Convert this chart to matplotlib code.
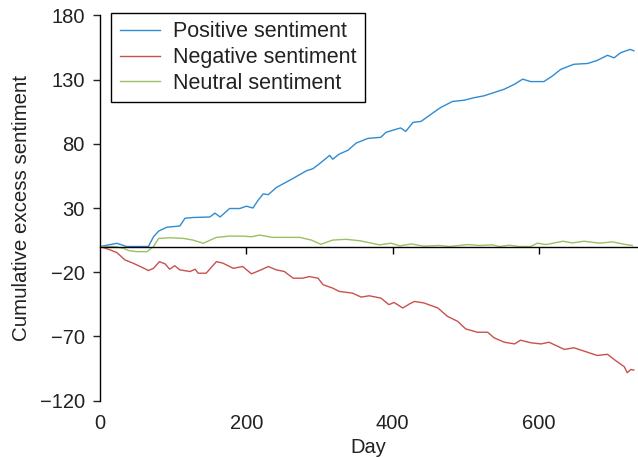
import matplotlib
matplotlib.use("Agg")
import matplotlib.pyplot as plt

plt.rcParams['font.family'] = ['Liberation Sans', 'DejaVu Sans']

pos_days = [0, 23, 36, 45, 66, 73, 80, 91, 109, 116, 127, 150, 157, 164, 177, 191, 200, 209, 216, 223,
            230, 241, 259, 273, 282, 291, 300, 314, 318, 327, 339, 350, 366, 384, 391, 411, 418, 428,
            439, 450, 466, 482, 498, 512, 525, 539, 553, 567, 578, 589, 607, 619, 630, 648, 667, 680,
            694, 703, 712, 725, 730]
pos_vals = [0, 2.5, 0, 0, 0, 7.6, 12, 15, 16, 22, 22.6, 23, 26, 23, 29.6, 29.6, 31.4, 30, 36, 41,
            40.4, 46, 51.5, 56, 59, 60.6, 64.5, 71, 68, 72, 75, 80.5, 84.2, 85.1, 89, 92.4, 89.7, 96.7,
            97.5, 102, 108.4, 113, 114, 116, 117.4, 120, 122.6, 126.5, 130.4, 128.5, 128.5, 133, 138, 142,
            142.6, 145, 149, 147, 151, 153.6, 152.5]

neg_days = [0, 14, 23, 34, 45, 55, 66, 73, 81, 89, 95, 102, 109, 123, 130, 134, 145, 159, 168, 175,
            182, 195, 207, 218, 230, 241, 252, 264, 277, 286, 298, 305, 318, 327, 345, 357, 368, 384,
            395, 402, 414, 423, 430, 443, 462, 475, 489, 500, 516, 530, 539, 553, 567, 575, 589, 603,
            614, 635, 648, 662, 680, 694, 703, 717, 721, 726, 730]
neg_vals = [0, -2.7, -4.8, -10.5, -13, -15.6, -18.7, -17, -11.8, -13.6, -17.7, -15, -18.2, -19.5, -17.7,
            -20.8, -20.8, -11.8, -13, -15, -17, -15.6, -21.3, -18.7, -15.6, -18.2, -19.5, -24.7, -24.7,
            -23.4, -24.7, -29.8, -32.4, -35, -36.3, -39.4, -38.4, -40.2, -45.3, -43.6, -47.9, -44.8,
            -42.8, -44, -47.9, -54.4, -58.3, -64.2, -66.8, -66.8, -71.2, -74.6, -75.9, -73, -75, -75.9,
            -74.6, -80.2, -78.9, -81.5, -84.9, -84, -88, -93.7, -98.3, -95.8, -96.3]

neu_days = [0, 18, 32, 39, 50, 64, 73, 80, 95, 114, 127, 141, 159, 177, 195, 207, 218, 236, 255, 273,
            289, 302, 318, 336, 355, 368, 382, 398, 410, 426, 442, 464, 478, 503, 519, 537, 546, 560,
            573, 589, 598, 610, 633, 646, 662, 683, 701, 719, 728]
neu_vals = [0, 0, -1.4, -3.2, -4, -4, 0, 6.3, 6.8, 6.3, 5, 2.5, 7.1, 8.1, 8.1, 7.6, 8.9, 7.1, 7.1, 7.1,
            5, 1.7, 5, 5.6, 4.5, 3, 1.3, 2.6, 0.5, 2, 0.3, 0.8, 0, 1.5, 0.8, 1.3, 0, 1, 0, 0, 2.6, 1.5,
            4.1, 2.8, 4.1, 2.6, 3.6, 1.5, 0.8]

labels = ['Positive sentiment', 'Negative sentiment', 'Neutral sentiment']
colors = ['#2f8bd2', '#c9514d', '#9cbf62']
y_ticks = [180, 130, 80, 30, -20, -70, -120]
x_ticks = [0, 200, 400, 600]

fig = plt.figure(figsize=(6.38, 4.57), dpi=100)
ax = fig.add_axes([0.157, 0.1236, 0.841, 0.8425])

ax.plot(pos_days, pos_vals, color=colors[0], lw=1.0, label=labels[0])
ax.plot(neg_days, neg_vals, color=colors[1], lw=1.0, label=labels[1])
ax.plot(neu_days, neu_vals, color=colors[2], lw=1.0, label=labels[2])

ax.set_xlim(0, 734)
ax.set_ylim(-120, 180)
ax.set_yticks(y_ticks)
ax.set_yticklabels(['\u2212' + str(-v) if v < 0 else str(v) for v in y_ticks])

ax.spines['top'].set_visible(False)
ax.spines['right'].set_visible(False)
ax.spines['bottom'].set_position(('data', 0))
ax.spines['left'].set_linewidth(1.0)
ax.spines['bottom'].set_linewidth(1.0)
ax.set_xticks([200, 400, 600])
ax.tick_params(axis='x', direction='out', length=5, width=1, labelbottom=False)
ax.tick_params(axis='y', direction='out', length=5, width=1, labelsize=14.5, pad=6, colors='#222222')

sec = ax.secondary_xaxis(0)
sec.set_xticks(x_ticks)
sec.spines['bottom'].set_visible(False)
sec.tick_params(axis='x', length=0, labelsize=14.5, pad=10, colors='#222222')
sec.set_xlabel('Day', fontsize=14.5, labelpad=3, color='#222222')

ax.set_ylabel('Cumulative excess sentiment', fontsize=14.8, labelpad=6, color='#222222')

leg = ax.legend(loc='upper left', bbox_to_anchor=(0.02, 1.007), fontsize=15.5, frameon=True,
                fancybox=False, framealpha=1, edgecolor='black', handlelength=1.9,
                handletextpad=0.6, labelspacing=0.22, borderpad=0.4, borderaxespad=0)
leg.get_frame().set_linewidth(1.0)
for t in leg.get_texts():
    t.set_color('#222222')

fig.savefig('out.png', dpi=100)
